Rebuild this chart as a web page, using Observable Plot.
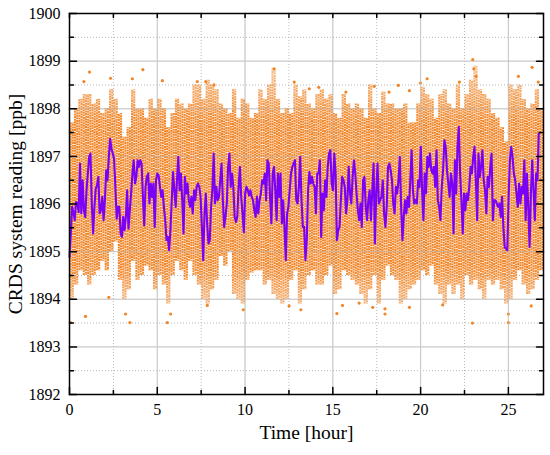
<!DOCTYPE html>
<html><head><meta charset="utf-8">
<script src="https://cdn.jsdelivr.net/npm/d3@7"></script>
<script src="https://cdn.jsdelivr.net/npm/@observablehq/plot@0.6"></script>
<style>body{margin:0;background:#fff}</style>
</head><body><div id="chart"></div>
<script>
// 5-minute averaged CRDS readings (purple line), regularly sampled from 0 to avgEnd hours
const avgEnd = 26.73;
const avgValues = [
1894.89,1895.38,1895.94,1895.83,1895.66,1896.04,1896.02,1895.83,1896.85,1895.80,1896.50,1895.87,1895.73,1896.29,1896.64,1896.99,1897.06,1896.01,1895.38,1895.94,
1896.32,1896.39,1896.57,1895.80,1895.87,1896.15,1895.66,1896.08,1896.71,1896.50,1896.99,1897.37,1897.16,1897.06,1896.95,1896.36,1895.69,1895.94,1895.94,1895.38,
1895.31,1895.73,1895.45,1895.73,1896.29,1895.48,1895.87,1896.22,1896.64,1896.92,1896.43,1896.57,1896.92,1896.78,1896.92,1896.85,1896.15,1895.55,1896.36,1896.57,
1896.64,1896.01,1896.43,1896.15,1896.43,1895.52,1896.50,1896.64,1896.60,1896.36,1896.15,1896.29,1895.94,1895.66,1895.24,1895.31,1895.03,1895.45,1896.08,1896.67,
1896.29,1895.94,1896.50,1896.99,1896.29,1896.64,1896.08,1895.38,1896.57,1896.22,1896.43,1896.08,1895.94,1896.15,1895.80,1896.29,1896.08,1896.36,1896.43,1896.36,
1896.15,1895.52,1894.82,1895.80,1896.22,1895.59,1895.17,1895.24,1895.94,1896.29,1897.06,1896.01,1896.36,1896.08,1896.15,1896.50,1896.85,1896.08,1895.52,1895.73,
1896.01,1896.78,1897.06,1896.36,1896.64,
1896.36,1895.73,1895.62,1895.73,1896.36,1896.78,1896.15,1895.80,1895.41,1896.22,1896.36,1896.29,1896.18,1896.29,1896.15,1896.08,1895.87,1895.73,1896.15,1895.80,
1896.08,1896.22,1896.50,1896.43,1896.64,1896.08,1896.92,1896.85,1896.15,1895.59,1896.64,1896.78,1896.29,1895.66,1896.64,1896.15,1896.64,1895.59,1896.08,1895.52,
1894.82,1895.80,1895.94,1896.29,1896.64,1896.78,1896.85,1896.92,1896.08,1896.01,1896.36,1896.99,1896.08,1895.52,1895.52,1894.82,1895.24,1896.29,1896.67,1896.43,
1896.57,1896.43,
1896.36,1895.80,1896.64,1896.64,1896.92,1895.31,1896.22,1895.87,1896.50,1896.15,1896.78,1897.06,1897.13,1896.43,1896.29,1897.06,1896.64,1895.24,1895.45,1895.52,
1896.08,1896.57,1896.50,1896.36,1895.80,1896.08,1896.78,1896.22,1896.01,1896.57,1896.92,1896.64,1896.22,1895.87,1895.66,1896.01,1895.52,1896.50,1896.57,1895.94,
1895.66,1896.08,1896.29,1895.66,1896.29,1896.85,1895.17,1896.22,1896.85,1896.01,1896.08,1896.15,1896.50,1895.80,1895.52,1895.94,1896.78,1896.85,1896.71,1896.50,
1896.01,1895.80,1896.36,
1896.22,1896.50,1896.99,1895.94,1895.24,1895.73,1896.08,1895.80,1896.15,1895.94,1896.50,1897.13,1896.29,1896.01,1896.08,1896.01,1896.50,1896.36,1897.20,1896.29,
1895.66,1896.64,1896.22,1896.99,1896.78,1897.06,1896.71,1896.64,1896.78,1896.36,1897.13,1896.08,1895.94,1895.66,1896.36,1896.71,1897.34,1897.20,1896.71,1896.43,
1896.15,1896.64,1896.43,1895.38,1896.92,1896.22,1897.20,1897.62,1896.64,1896.08,1895.38,1896.22,1895.87,1896.22,1896.08,1896.36,1896.78,1896.64,1896.99,1897.20,
1896.50,1895.66,
1897.06,1896.57,1896.78,1897.13,1896.50,1896.29,1895.80,1896.57,1896.36,1896.78,1897.06,1895.66,1896.08,1896.08,1896.01,1895.94,1896.01,1895.73,1896.15,1895.52,
1895.10,1895.06,1895.03,1896.15,1896.92,1897.20,1896.99,1896.64,1896.50,1896.22,1895.94,1896.43,1896.01,1896.36,1896.22,1896.92,1895.66,1896.64,1895.94,1895.10,
1896.22,1896.92,1896.29,1895.66,1896.64,1896.50,1897.48
];

// Raw readings (orange): extent of the measurement streaks in 0.25 h bins
const binWidth = 0.25;
const binHigh = [
1897.7,1898.0,1898.2,1898.3,1898.3,1898.1,1898.2,1897.9,1898.0,1898.4,1898.2,1897.9,1897.4,1897.6,1898.4,1898.0,1898.0,1897.8,
1898.2,1898.0,1898.2,1898.0,1897.6,1897.9,1898.2,1898.1,1898.0,1898.1,1898.5,1898.5,1898.2,1898.6,1898.5,1898.4,1898.1,1898.0,1897.9,
1898.4,1897.8,1898.2,1898.1,1897.8,1897.9,1898.4,1898.2,1898.5,1898.85,1898.2,1897.9,1898.0,1897.9,1898.5,1898.25,1898.4,1898.1,1898.0,
1898.3,1898.4,1898.2,1898.3,1897.9,1897.8,1898.3,1898.1,1898.0,1898.1,1898.0,1897.8,1898.5,1898.0,1897.9,1898.35,1898.1,1898.1,1898.0,
1898.0,1898.1,1897.7,1897.7,1898.1,1898.45,1898.3,1898.2,1897.8,1898.3,1898.4,1898.1,1898.0,1898.5,1898.0,1898.3,1898.6,1898.9,
1898.4,1898.3,1898.2,1897.9,1897.8,1897.6,1897.3,1898.5,1898.4,1898.5,1898.2,1898.0,1898.1,1898.4,1898.0
];
const binLow = [
1894.0,1894.3,1894.6,1894.5,1894.3,1894.5,1894.6,1894.8,1894.6,1895.0,1895.2,1894.4,1894.0,1894.2,1894.8,1894.4,1894.5,1894.7,
1894.6,1894.2,1894.5,1894.3,1893.9,1894.5,1894.8,1894.6,1894.4,1894.8,1894.5,1894.3,1894.0,1893.9,1894.2,1894.4,1894.9,1894.7,1895.0,
1894.1,1894.0,1893.9,1894.4,1894.55,1894.6,1894.6,1894.3,1894.4,1894.1,1894.0,1893.9,1894.0,1894.4,1894.6,1893.9,1894.2,1894.5,1894.6,
1894.3,1894.3,1894.5,1894.7,1894.1,1894.2,1894.6,1894.5,1894.4,1894.3,1894.1,1893.9,1894.2,1894.5,1893.9,1894.4,1894.7,1894.5,1894.4,
1893.9,1894.0,1894.2,1894.3,1894.4,1894.6,1894.5,1894.7,1894.3,1894.1,1893.9,1894.3,1894.1,1894.3,1894.0,1894.5,1894.3,1894.4,
1894.2,1894.0,1894.4,1894.3,1894.4,1894.2,1893.9,1894.0,1894.4,1894.6,1894.3,1894.1,1894.2,1894.4,1894.6
];

// Isolated raw readings outside the streaks
const outlierTime = [1.14,0.82,2.34,3.58,4.18,5.29,7.28,7.76,8.23,11.65,12.8,13.66,14.2,15.74,17.36,18.2,18.73,19.36,19.99,20.37,22.21,22.97,23.03,23.16,25.57,26.35,26.7,
  0.91,0.06,3.44,3.19,5.57,5.76,9.9,2.24,7.85,13.18,15.23,15.55,17.97,17.97,19.36,21.26,22.95,25.0,25.0,26.3,12.51,16.5,17.27];
const outlierValue = [1898.77,1898.57,1898.64,1898.63,1898.82,1898.59,1898.57,1898.57,1898.5,1898.84,1898.56,1898.42,1898.45,1898.35,1898.47,1898.35,1898.49,1898.38,1898.54,1898.63,1898.56,1899.03,1898.84,1898.68,1898.68,1898.87,1898.56,
  1893.64,1893.51,1893.51,1893.69,1893.51,1893.69,1893.78,1894.04,1893.87,1893.78,1893.7,1893.87,1893.69,1893.8,1893.83,1893.88,1893.5,1893.69,1893.51,1893.86,1893.86,1893.92,1893.83];

const xMajor = [0, 5, 10, 15, 20, 25];
const xMinor = [2.5, 7.5, 12.5, 17.5, 22.5];
const yMajor = [1892, 1893, 1894, 1895, 1896, 1897, 1898, 1899, 1900];
const yMinor = [1892.5, 1893.5, 1894.5, 1895.5, 1896.5, 1897.5, 1898.5, 1899.5];

const avg = avgValues.map((v, i) => ({t: i * avgEnd / (avgValues.length - 1), v}));
const bins = binHigh.map((hi, i) => ({t: (i + 0.5) * binWidth, hi, lo: binLow[i]}));
const outliers = outlierTime.map((t, i) => ({t, v: outlierValue[i]}));

const orange = "#F08628";
const purple = "#7B00F8";
const fade = "url(#orangeFade)";
// plain line-segment shape for inward tick marks
const tickShape = {draw(context, l) { context.moveTo(0, 0); context.lineTo(0, -l); }};
const tickStyle = {shape: tickShape, anchor: "start", stroke: "#000", strokeWidth: 1.5};

const chart = Plot.plot({
  width: 550, height: 455,
  marginLeft: 69, marginRight: 7, marginTop: 13, marginBottom: 61,
  style: {fontFamily: "'Liberation Serif','Times New Roman',serif", fontSize: "16px", background: "#fff", color: "#000", overflow: "visible"},
  x: {domain: [0, 27]},
  y: {domain: [1892, 1900]},
  marks: [
    Plot.gridX({ticks: xMinor, stroke: "#b8b8b8", strokeOpacity: 1, strokeDasharray: "1,2"}),
    Plot.gridY({ticks: yMinor, stroke: "#b8b8b8", strokeOpacity: 1, strokeDasharray: "1,2"}),
    Plot.gridX({ticks: xMajor, stroke: "#c8c8c8", strokeOpacity: 1}),
    Plot.gridY({ticks: yMajor, stroke: "#c8c8c8", strokeOpacity: 1}),
    Plot.ruleX(bins, {x: "t", y1: "lo", y2: "hi", stroke: fade, strokeWidth: 2.1, dx: -1.1, strokeDasharray: "2,0.6"}),
    Plot.ruleX(bins, {x: "t", y1: "lo", y2: "hi", stroke: fade, strokeWidth: 2.1, dx: 1.1, strokeDasharray: "2,0.6", strokeDashoffset: 1.3}),
    Plot.dot(outliers, {x: "t", y: "v", r: 1.6, fill: orange, stroke: "none"}),
    Plot.gridX({ticks: xMajor, stroke: "#c8c8c8", strokeOpacity: 0.45}),
    Plot.gridY({ticks: yMajor, stroke: "#c8c8c8", strokeOpacity: 0.45}),
    Plot.line(avg, {x: "t", y: "v", stroke: purple, strokeWidth: 2.1}),
    Plot.frame({stroke: "#000", strokeWidth: 1.5}),
    // tick labels
    Plot.axisX({ticks: xMajor, anchor: "bottom", tickSize: 0, tickPadding: 9, label: null}),
    Plot.axisY({ticks: yMajor, anchor: "left", tickSize: 0, tickPadding: 9, label: null, tickFormat: d => String(d)}),
    // inward tick marks on all four sides
    Plot.vector(xMajor, {x: d => d, frameAnchor: "bottom", length: 7, rotate: 0, ...tickStyle}),
    Plot.vector(xMinor, {x: d => d, frameAnchor: "bottom", length: 4, rotate: 0, ...tickStyle}),
    Plot.vector([...xMajor, ...xMinor], {x: d => d, frameAnchor: "top", length: 4, rotate: 180, ...tickStyle}),
    Plot.vector(yMajor, {y: d => d, frameAnchor: "left", length: 7, rotate: 90, ...tickStyle}),
    Plot.vector(yMinor, {y: d => d, frameAnchor: "left", length: 4, rotate: 90, ...tickStyle}),
    Plot.vector(yMajor, {y: d => d, frameAnchor: "right", length: 7, rotate: -90, ...tickStyle}),
    Plot.vector(yMinor, {y: d => d, frameAnchor: "right", length: 4, rotate: -90, ...tickStyle}),
    // titles
    Plot.text(["Time [hour]"], {frameAnchor: "bottom", dy: 44, fontSize: 19.5, text: d => d}),
    Plot.text(["CRDS system reading [ppb]"], {frameAnchor: "left", dx: -54, rotate: -90, textAnchor: "middle", fontSize: 19.5, text: d => d})
  ]
});

// vertical fade for the raw-reading streaks: dense core, sparser ends
const ys = chart.scale("y");
const g0 = ys.apply(1899.2), g1 = ys.apply(1893.4);
const fadeStops = [[1899.2, 0.4], [1898.3, 0.75], [1897.7, 1], [1894.7, 1], [1894.2, 0.75], [1893.4, 0.4]];
const grad = d3.select(chart).insert("defs", ":first-child").append("linearGradient")
  .attr("id", "orangeFade").attr("gradientUnits", "userSpaceOnUse")
  .attr("x1", 0).attr("x2", 0).attr("y1", g0).attr("y2", g1);
fadeStops.forEach(([v, o]) => grad.append("stop")
  .attr("offset", (ys.apply(v) - g0) / (g1 - g0))
  .attr("stop-color", orange).attr("stop-opacity", o));

document.getElementById("chart").appendChild(chart);
</script>
</body></html>
